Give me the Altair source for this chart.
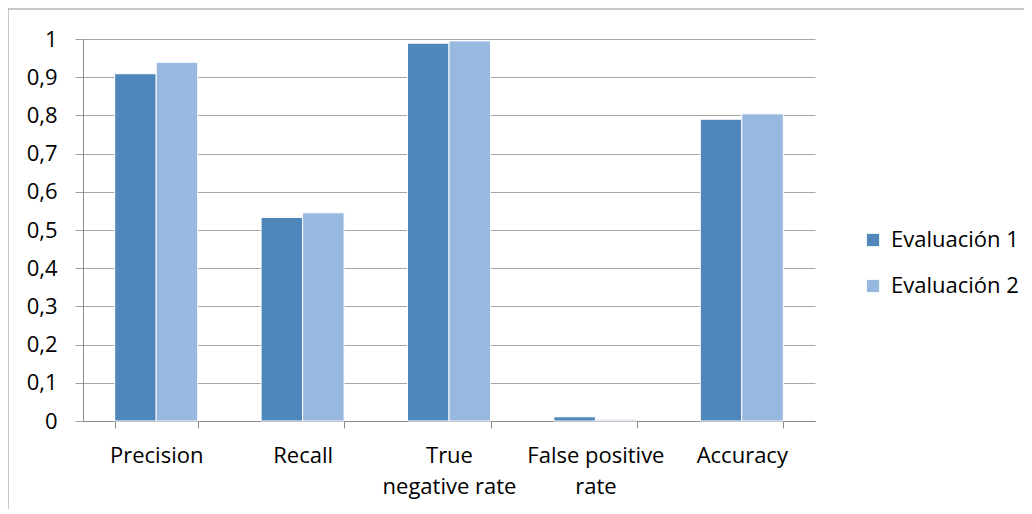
import altair as alt
import pandas as pd

categories = ["Precision", "Recall", "True negative rate", "False positive rate", "Accuracy"]
series_names = ["Evaluación 1", "Evaluación 2"]
eval1 = [0.909, 0.533, 0.989, 0.011, 0.790]
eval2 = [0.939, 0.545, 0.995, 0.003, 0.804]
y_ticks = [0, 0.1, 0.2, 0.3, 0.4, 0.5, 0.6, 0.7, 0.8, 0.9, 1]
colors = ["#4F86BB", "#97B8DF"]

rows = []
for c, a, b in zip(categories, eval1, eval2):
    rows.append({"metric": c, "serie": series_names[0], "value": a})
    rows.append({"metric": c, "serie": series_names[1], "value": b})
df = pd.DataFrame(rows)

FONT = "Open Sans"

bars = alt.Chart(df).mark_bar(stroke="white", strokeWidth=1).encode(
    x=alt.X("metric:N", sort=categories, title=None,
            scale=alt.Scale(paddingInner=0.433, paddingOuter=0.2165),
            axis=alt.Axis(labelAngle=0, tickBand="extent", tickSize=7,
                          tickColor="#8c8c8c", domainColor="#8c8c8c",
                          labelPadding=17, labelLineHeight=31,
                          labelExpr="datum.value == 'True negative rate' ? ['True', 'negative rate'] : datum.value == 'False positive rate' ? ['False positive', 'rate'] : datum.value")),
    xOffset=alt.XOffset("serie:N", sort=series_names, scale=alt.Scale(paddingInner=0, paddingOuter=0)),
    y=alt.Y("value:Q", title=None,
            scale=alt.Scale(domain=[0, 1], nice=False),
            axis=alt.Axis(values=y_ticks, tickSize=8, labelPadding=18,
                          tickColor="#a0a0a0", domainColor="#8c8c8c",
                          gridColor="#a6a6a6", gridWidth=1,
                          labelExpr="replace(format(datum.value, '.1~f'), '.', ',')")),
    color=alt.Color("serie:N", sort=series_names,
                    scale=alt.Scale(domain=series_names, range=colors),
                    legend=alt.Legend(title=None, orient="none", legendX=779, legendY=190,
                                      symbolType="square", symbolSize=150,
                                      symbolStrokeWidth=0, labelOffset=7,
                                      rowPadding=24, padding=0,
                                      labelFontSize=22, labelFont=FONT,
                                      labelColor="black")),
)

frame = alt.Chart(pd.DataFrame({"a": [0]})).mark_rect(
    fill="transparent", stroke="#8f8f8f", strokeWidth=1
).encode(
    x=alt.value(-75), x2=alt.value(1300), y=alt.value(-30), y2=alt.value(800)
)

chart = alt.layer(frame, bars).properties(
    width=732, height=382,
    autosize=alt.AutoSizeParams(type="none"),
    padding={"left": 75, "top": 31, "right": 209, "bottom": 88},
).configure_view(stroke="transparent").configure_axis(
    labelFont=FONT, labelFontSize=22, labelColor="black", grid=False
).configure_axisY(grid=True).configure_axisX(grid=False)

chart.save("out.html", embed_options={"renderer": "svg", "actions": False})
